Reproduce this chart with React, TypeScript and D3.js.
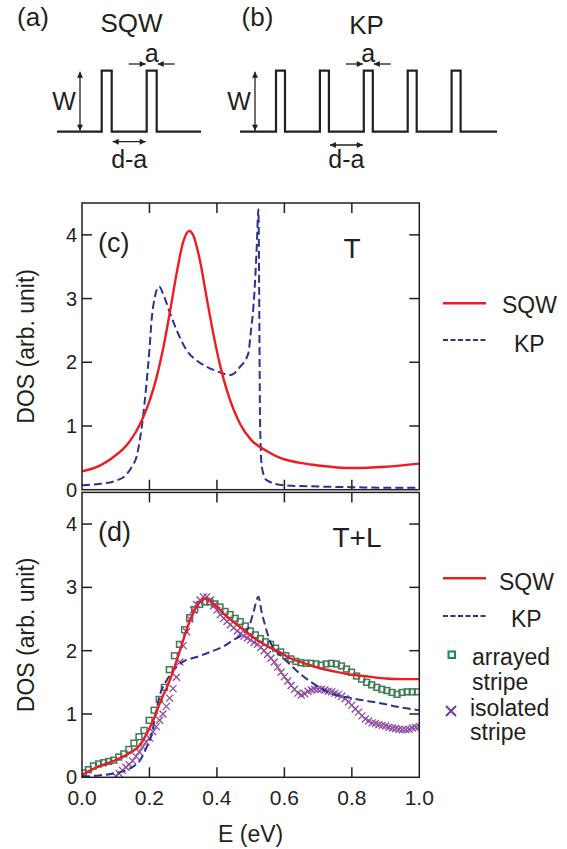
import React, { useEffect, useRef } from 'react';
import * as d3 from 'd3';

const W = 567;
const H = 849;

// (c) T only : [E (eV), DOS]
const cSqw: [number, number][] = [
  [0.0, 0.29], [0.05, 0.37], [0.1, 0.54], [0.12, 0.63], [0.14, 0.75], [0.16, 0.91],
  [0.18, 1.12], [0.2, 1.39], [0.22, 1.74], [0.24, 2.2], [0.26, 2.77], [0.28, 3.38],
  [0.3, 3.89], [0.318, 4.06], [0.33, 3.99], [0.35, 3.59], [0.37, 3.0], [0.39, 2.43],
  [0.41, 1.94], [0.43, 1.55], [0.45, 1.25], [0.47, 1.02], [0.5, 0.79], [0.55, 0.6],
  [0.587, 0.5], [0.62, 0.45], [0.647, 0.42], [0.7, 0.38], [0.8, 0.34], [0.9, 0.36],
  [1.0, 0.41],
];
const cKp: [number, number][] = [
  [0.0, 0.07], [0.05, 0.09], [0.1, 0.14], [0.13, 0.23], [0.15, 0.38], [0.162, 0.52],
  [0.172, 0.8], [0.18, 1.1], [0.19, 1.6], [0.2, 2.2], [0.207, 2.7], [0.215, 3.0],
  [0.229, 3.19], [0.24, 3.08], [0.261, 2.77], [0.285, 2.45], [0.31, 2.19], [0.34, 2.03],
  [0.37, 1.93], [0.4, 1.86], [0.44, 1.8], [0.469, 1.93], [0.493, 2.14], [0.5, 2.45],
  [0.51, 3.0], [0.518, 3.8], [0.523, 4.4], [0.528, 1.05], [0.533, 0.36], [0.547, 0.15],
  [0.597, 0.07], [0.7, 0.05], [0.8, 0.04], [0.9, 0.03], [1.0, 0.03],
];

// (d) T+L
const dSqw: [number, number][] = [
  [0.0, 0.04], [0.04, 0.15], [0.09, 0.25], [0.14, 0.38], [0.172, 0.51], [0.192, 0.69],
  [0.207, 0.85], [0.222, 1.05], [0.236, 1.24], [0.25, 1.4], [0.265, 1.6], [0.28, 1.83],
  [0.295, 2.08], [0.31, 2.33], [0.325, 2.54], [0.34, 2.7], [0.355, 2.79], [0.365, 2.82],
  [0.38, 2.79], [0.4, 2.69], [0.429, 2.54], [0.455, 2.43], [0.479, 2.33], [0.5, 2.24],
  [0.528, 2.14], [0.553, 2.06], [0.578, 2.0], [0.617, 1.88], [0.66, 1.8], [0.7, 1.73],
  [0.75, 1.67], [0.8, 1.62], [0.85, 1.59], [0.9, 1.56], [0.95, 1.55], [1.0, 1.55],
];
const dKp: [number, number][] = [
  [0.0, 0.01], [0.05, 0.03], [0.093, 0.06], [0.142, 0.14], [0.172, 0.27], [0.192, 0.48],
  [0.207, 0.69], [0.217, 0.96], [0.231, 1.3], [0.25, 1.52], [0.27, 1.68], [0.301, 1.83],
  [0.34, 1.9], [0.38, 1.98], [0.42, 2.07], [0.449, 2.17], [0.479, 2.27], [0.495, 2.38],
  [0.508, 2.6], [0.523, 2.85], [0.533, 2.6], [0.543, 2.4], [0.558, 2.14], [0.58, 1.97],
  [0.6, 1.87], [0.637, 1.68], [0.686, 1.48], [0.736, 1.33], [0.8, 1.25], [0.884, 1.17],
  [0.95, 1.1], [1.0, 1.06],
];
const dArrayed: [number, number][] = [
  [0.004, 0.07], [0.019, 0.12], [0.034, 0.18], [0.049, 0.21], [0.064, 0.23], [0.079, 0.25],
  [0.094, 0.27], [0.109, 0.32], [0.124, 0.37], [0.139, 0.44], [0.154, 0.54], [0.169, 0.64],
  [0.184, 0.74], [0.199, 0.9], [0.214, 1.06], [0.229, 1.23], [0.244, 1.42], [0.259, 1.7],
  [0.274, 1.92], [0.289, 2.1], [0.304, 2.33], [0.319, 2.52], [0.334, 2.65], [0.349, 2.73],
  [0.364, 2.77], [0.379, 2.77], [0.394, 2.74], [0.409, 2.69], [0.424, 2.62], [0.439, 2.57],
  [0.454, 2.51], [0.469, 2.46], [0.484, 2.39], [0.499, 2.31], [0.514, 2.25], [0.529, 2.19],
  [0.544, 2.14], [0.559, 2.1], [0.574, 2.04], [0.589, 1.98], [0.604, 1.92], [0.619, 1.87],
  [0.634, 1.83], [0.649, 1.81], [0.664, 1.8], [0.679, 1.8], [0.694, 1.79], [0.709, 1.77],
  [0.724, 1.79], [0.739, 1.8], [0.754, 1.79], [0.769, 1.76], [0.784, 1.71], [0.799, 1.66],
  [0.814, 1.6], [0.829, 1.55], [0.844, 1.5], [0.859, 1.46], [0.874, 1.42], [0.889, 1.39],
  [0.904, 1.37], [0.919, 1.34], [0.934, 1.31], [0.949, 1.34], [0.964, 1.35], [0.979, 1.35],
  [0.994, 1.35],
];
const dIsolated: [number, number][] = [
  [0.1, 0.02], [0.11, 0.06], [0.12, 0.11], [0.13, 0.16], [0.14, 0.2], [0.15, 0.26],
  [0.16, 0.33], [0.17, 0.4], [0.18, 0.48], [0.19, 0.56], [0.2, 0.62], [0.21, 0.72],
  [0.22, 0.8], [0.23, 0.9], [0.24, 1.0], [0.25, 1.12], [0.26, 1.25], [0.27, 1.4],
  [0.28, 1.58], [0.29, 1.82], [0.3, 2.08], [0.31, 2.3], [0.32, 2.5], [0.33, 2.64],
  [0.34, 2.73], [0.35, 2.8], [0.36, 2.85], [0.37, 2.85], [0.38, 2.8], [0.39, 2.71],
  [0.4, 2.64], [0.41, 2.57], [0.42, 2.51], [0.43, 2.46], [0.44, 2.41], [0.45, 2.36],
  [0.46, 2.31], [0.47, 2.27], [0.48, 2.23], [0.49, 2.2], [0.5, 2.17], [0.51, 2.13],
  [0.52, 2.1], [0.53, 2.05], [0.54, 2.0], [0.55, 1.94], [0.56, 1.88], [0.57, 1.82],
  [0.58, 1.74], [0.59, 1.66], [0.6, 1.59], [0.61, 1.52], [0.62, 1.45], [0.63, 1.39],
  [0.64, 1.33], [0.65, 1.3], [0.66, 1.32], [0.67, 1.36], [0.68, 1.38], [0.69, 1.39],
  [0.7, 1.39], [0.71, 1.39], [0.72, 1.38], [0.73, 1.36], [0.74, 1.35], [0.75, 1.33],
  [0.76, 1.31], [0.77, 1.28], [0.78, 1.24], [0.79, 1.19], [0.8, 1.14], [0.81, 1.08],
  [0.82, 1.03], [0.83, 0.97], [0.84, 0.92], [0.85, 0.89], [0.86, 0.86], [0.87, 0.85],
  [0.88, 0.83], [0.89, 0.82], [0.9, 0.81], [0.91, 0.79], [0.92, 0.78], [0.93, 0.77],
  [0.94, 0.76], [0.95, 0.75], [0.96, 0.75], [0.97, 0.76], [0.98, 0.78], [0.99, 0.79],
  [1.0, 0.8],
];

const yTicks = [0, 1, 2, 3, 4];
const xTicks = [0, 0.2, 0.4, 0.6, 0.8, 1.0];
const xTickLabels = ['0.0', '0.2', '0.4', '0.6', '0.8', '1.0'];

// potential profiles in (a) and (b): pulse index
const sqwPulses = [0, 1];
const kpPulses = [0, 1, 2, 3, 4];

const FONT = '"Liberation Sans", Arial, Helvetica, sans-serif';
const INK = '#231f20';
const RED = '#ed1c24';
const BLUE = '#2e3192';
const GREEN = '#3f7a57';
const PURPLE = '#8e4c9f';

const App = () => {
  const svgRef = useRef<SVGSVGElement>(null);

  useEffect(() => {
    document.body.style.margin = '0';
    const svg = d3.select(svgRef.current);
    svg.selectAll('*').remove();

    const defs = svg.append('defs');
    defs.append('marker')
      .attr('id', 'arr')
      .attr('viewBox', '0 0 10 10')
      .attr('refX', 10).attr('refY', 5)
      .attr('markerUnits', 'userSpaceOnUse')
      .attr('markerWidth', 7).attr('markerHeight', 6)
      .attr('orient', 'auto-start-reverse')
      .append('path').attr('d', 'M0,0 L10,5 L0,10 z').attr('fill', INK);

    // ---------- schematics (a), (b)
    const drawWave = (pulses: number[], xStart: number, xEnd: number, firstL: number, period: number,
      width: number, wx: number, aIdx: number, gapIdx: number, gapY: number) => {
      const base = 131.7, top = 70.7;
      const px = d3.scaleLinear().domain([0, 1]).range([firstL, firstL + period]);
      const pts: [number, number][] = [[xStart, base]];
      pulses.forEach(i => {
        const l = px(i);
        pts.push([l, base], [l, top], [l + width, top], [l + width, base]);
      });
      pts.push([xEnd, base]);
      svg.append('path').attr('d', d3.line()(pts))
        .attr('fill', 'none').attr('stroke', INK).attr('stroke-width', 2.2)
        .attr('stroke-linejoin', 'miter');

      // W arrow
      svg.append('line').attr('x1', wx).attr('x2', wx).attr('y1', top + 1).attr('y2', base - 1)
        .attr('stroke', INK).attr('stroke-width', 1.3)
        .attr('marker-start', 'url(#arr)').attr('marker-end', 'url(#arr)');
      svg.append('text').attr('x', wx - 16).attr('y', 110).attr('text-anchor', 'middle')
        .style('font-family', FONT).style('font-size', '25px').attr('fill', INK).text('W');

      // a arrows
      const al = px(aIdx), ar = px(aIdx) + width;
      svg.append('line').attr('x1', al - 18).attr('x2', al - 1).attr('y1', 64).attr('y2', 64)
        .attr('stroke', INK).attr('stroke-width', 1.3).attr('marker-end', 'url(#arr)');
      svg.append('line').attr('x1', ar + 18).attr('x2', ar + 1).attr('y1', 64).attr('y2', 64)
        .attr('stroke', INK).attr('stroke-width', 1.3).attr('marker-end', 'url(#arr)');
      svg.append('text').attr('x', (al + ar) / 2).attr('y', 61.5).attr('text-anchor', 'middle')
        .style('font-family', FONT).style('font-size', '25px').attr('fill', INK).text('a');

      // d-a arrow
      const gl = px(gapIdx) + width, gr = px(gapIdx + 1);
      svg.append('line').attr('x1', gl + 1).attr('x2', gr - 1).attr('y1', gapY).attr('y2', gapY)
        .attr('stroke', INK).attr('stroke-width', 1.3)
        .attr('marker-start', 'url(#arr)').attr('marker-end', 'url(#arr)');
      svg.append('text').attr('x', (gl + gr) / 2).attr('y', 168).attr('text-anchor', 'middle')
        .style('font-family', FONT).style('font-size', '25px').attr('fill', INK).text('d-a');
    };

    drawWave(sqwPulses, 57, 201, 101.7, 45, 10, 80, 1, 0, 141.7);
    drawWave(kpPulses, 240, 497, 276, 43.9, 9, 255, 2, 1, 145);

    const topTexts = [
      { x: 33, y: 26, t: '(a)', s: 26 },
      { x: 131.5, y: 32, t: 'SQW', s: 26 },
      { x: 257.5, y: 26, t: '(b)', s: 26 },
      { x: 366.5, y: 34, t: 'KP', s: 26 },
    ];
    topTexts.forEach(d => {
      svg.append('text').attr('x', d.x).attr('y', d.y).attr('text-anchor', 'middle')
        .style('font-family', FONT).style('font-size', `${d.s}px`).attr('fill', INK).text(d.t);
    });

    // ---------- DOS panels
    const left = 82, right = 419.3;
    const x = d3.scaleLinear().domain([0, 1]).range([left, right]);

    const panels = [
      { id: 'c', top: 203, bottom: 489.7, tag: '(c)', mode: 'T', modeX: 352, sqw: cSqw, kp: cKp, exp: false },
      { id: 'd', top: 492.4, bottom: 777.3, tag: '(d)', mode: 'T+L', modeX: 357, sqw: dSqw, kp: dKp, exp: true },
    ];

    panels.forEach(p => {
      const y = d3.scaleLinear().domain([0, 4.5]).range([p.bottom, p.top]);
      const g = svg.append('g');

      defs.append('clipPath').attr('id', `clip-${p.id}`)
        .append('rect').attr('x', left).attr('y', p.top).attr('width', right - left).attr('height', p.bottom - p.top);

      const plot = g.append('g').attr('clip-path', `url(#clip-${p.id})`);
      const line = d3.line<[number, number]>().x(d => x(d[0])).y(d => y(d[1])).curve(d3.curveMonotoneX);

      if (p.exp) {
        plot.append('g').selectAll('rect').data(dArrayed).enter().append('rect')
          .attr('x', d => x(d[0]) - 2.9).attr('y', d => y(d[1]) - 2.9)
          .attr('width', 5.8).attr('height', 5.8)
          .attr('fill', 'none').attr('stroke', GREEN).attr('stroke-width', 1.5);
        plot.append('g').selectAll('path').data(dIsolated).enter().append('path')
          .attr('d', d => {
            const cx = x(d[0]), cy = y(d[1]), r = 3.5;
            return `M${cx - r},${cy - r}L${cx + r},${cy + r}M${cx - r},${cy + r}L${cx + r},${cy - r}`;
          })
          .attr('fill', 'none').attr('stroke', PURPLE).attr('stroke-width', 1.3);
      }

      plot.append('path').datum(p.kp).attr('d', line)
        .attr('fill', 'none').attr('stroke', BLUE).attr('stroke-width', 2)
        .attr('stroke-dasharray', '8,4');
      plot.append('path').datum(p.sqw).attr('d', line)
        .attr('fill', 'none').attr('stroke', RED).attr('stroke-width', 2.4);

      // frame
      g.append('rect').attr('x', left).attr('y', p.top).attr('width', right - left).attr('height', p.bottom - p.top)
        .attr('fill', 'none').attr('stroke', INK).attr('stroke-width', 1.5);

      // inward ticks
      yTicks.filter(v => v > 0).forEach(v => {
        g.append('line').attr('x1', left).attr('x2', left + 10).attr('y1', y(v)).attr('y2', y(v))
          .attr('stroke', INK).attr('stroke-width', 1.5);
        g.append('line').attr('x1', right - 10).attr('x2', right).attr('y1', y(v)).attr('y2', y(v))
          .attr('stroke', INK).attr('stroke-width', 1.5);
      });
      xTicks.filter(v => v > 0 && v < 1).forEach(v => {
        g.append('line').attr('x1', x(v)).attr('x2', x(v)).attr('y1', p.top).attr('y2', p.top + 10)
          .attr('stroke', INK).attr('stroke-width', 1.5);
        g.append('line').attr('x1', x(v)).attr('x2', x(v)).attr('y1', p.bottom - 10).attr('y2', p.bottom)
          .attr('stroke', INK).attr('stroke-width', 1.5);
      });

      yTicks.forEach(v => {
        g.append('text').attr('x', 77).attr('y', y(v)).attr('dy', '0.35em').attr('text-anchor', 'end')
          .style('font-family', FONT).style('font-size', '20px').attr('fill', INK).text(String(v));
      });

      g.append('text').attr('x', 34).attr('y', (p.top + p.bottom) / 2).attr('text-anchor', 'middle')
        .attr('transform', `rotate(-90, 34, ${(p.top + p.bottom) / 2})`)
        .style('font-family', FONT).style('font-size', '23px').attr('fill', INK).text('DOS (arb. unit)');

      g.append('text').attr('x', 98).attr('y', p.top + 49).style('font-family', FONT)
        .style('font-size', '27px').attr('fill', INK).text(p.tag);
      g.append('text').attr('x', p.modeX).attr('y', p.top + 55).attr('text-anchor', 'middle')
        .style('font-family', FONT).style('font-size', '28px').attr('fill', INK).text(p.mode);
    });

    // x tick labels + axis title (bottom panel only)
    xTicks.forEach((v, i) => {
      svg.append('text').attr('x', x(v)).attr('y', 805).attr('text-anchor', 'middle')
        .style('font-family', FONT).style('font-size', '21px').attr('fill', INK).text(xTickLabels[i]);
    });
    svg.append('text').attr('x', (left + right) / 2).attr('y', 842).attr('text-anchor', 'middle')
      .style('font-family', FONT).style('font-size', '23px').attr('fill', INK).text('E (eV)');

    // ---------- legends
    const legendLines = [
      { y: 303.3, ty: 313, t: 'SQW', tx: 502, kind: 'sqw' },
      { y: 340, ty: 352, t: 'KP', tx: 514, kind: 'kp' },
      { y: 578.3, ty: 590, t: 'SQW', tx: 499, kind: 'sqw' },
      { y: 616, ty: 627, t: 'KP', tx: 511, kind: 'kp' },
    ];
    legendLines.forEach(l => {
      svg.append('line').attr('x1', 443).attr('x2', 486).attr('y1', l.y).attr('y2', l.y)
        .attr('stroke', l.kind === 'sqw' ? RED : BLUE)
        .attr('stroke-width', l.kind === 'sqw' ? 2.4 : 2)
        .attr('stroke-dasharray', l.kind === 'sqw' ? null : '5,2.5');
      svg.append('text').attr('x', l.tx).attr('y', l.ty).style('font-family', FONT)
        .style('font-size', '23px').attr('fill', INK).text(l.t);
    });

    svg.append('rect').attr('x', 448.5).attr('y', 651.5).attr('width', 6.5).attr('height', 6.5)
      .attr('fill', 'none').attr('stroke', '#1d8a4e').attr('stroke-width', 2);
    svg.append('path').attr('d', 'M446,706L456,716M446,716L456,706')
      .attr('stroke', '#6a3f9e').attr('stroke-width', 2);

    const legendTexts = [
      { x: 472, y: 665, t: 'arrayed' },
      { x: 472, y: 690, t: 'stripe' },
      { x: 470, y: 716, t: 'isolated' },
      { x: 470, y: 740, t: 'stripe' },
    ];
    legendTexts.forEach(d => {
      svg.append('text').attr('x', d.x).attr('y', d.y).style('font-family', FONT)
        .style('font-size', '23px').attr('fill', INK).text(d.t);
    });
  }, []);

  return (
    <svg
      ref={svgRef}
      width={W}
      height={H}
      viewBox={`0 0 ${W} ${H}`}
      style={{ position: 'absolute', left: 0, top: 0, background: '#fff', display: 'block' }}
    />
  );
};

export default App;
